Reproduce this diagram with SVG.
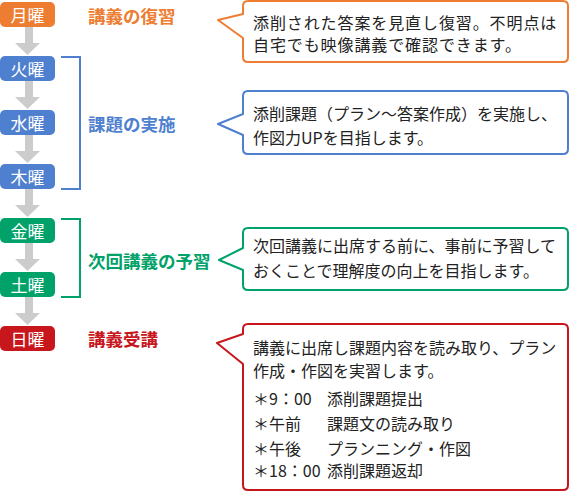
<svg xmlns="http://www.w3.org/2000/svg" width="570" height="492" viewBox="0 0 570 492">
<style>
text{font-family:"Noto Sans CJK JP","Noto Sans",sans-serif}
.day{fill:#fff;font-size:17px;text-anchor:middle;dominant-baseline:central}
.lbl{font-size:17.5px;font-weight:bold;dominant-baseline:central}
.t{font-size:16px;fill:#222;dominant-baseline:central}
.arr{fill:#cccccc}
.cb{fill:#fff;stroke-width:2;stroke-linejoin:round}
.br{fill:none;stroke-width:2}
</style>
<defs>
<path id="arrow" d="M25,0 H33 V16 H40 L27.5,28 L15,16 H25 Z"/>
</defs>
<g id="connectors" class="arr">
<use href="#arrow" x="0" y="27"/>
<use href="#arrow" x="0" y="81"/>
<use href="#arrow" x="0" y="135"/>
<use href="#arrow" x="0" y="189"/>
<use href="#arrow" x="0" y="243"/>
<use href="#arrow" x="0" y="297"/>
</g>
<g id="mon"><rect x="0" y="2" width="55" height="25" rx="5" fill="#ED7D31"/><text class="day" x="27.5" y="14.5">月曜</text></g>
<g id="tue"><rect x="0" y="56" width="55" height="25" rx="5" fill="#4F7FCF"/><text class="day" x="27.5" y="68.5">火曜</text></g>
<g id="wed"><rect x="0" y="110" width="55" height="25" rx="5" fill="#4F7FCF"/><text class="day" x="27.5" y="122.5">水曜</text></g>
<g id="thu"><rect x="0" y="164" width="55" height="25" rx="5" fill="#4F7FCF"/><text class="day" x="27.5" y="176.5">木曜</text></g>
<g id="fri"><rect x="0" y="218" width="55" height="25" rx="5" fill="#00A26A"/><text class="day" x="27.5" y="230.5">金曜</text></g>
<g id="sat"><rect x="0" y="272" width="55" height="25" rx="5" fill="#00A26A"/><text class="day" x="27.5" y="284.5">土曜</text></g>
<g id="sun"><rect x="0" y="326" width="55" height="25" rx="5" fill="#C8161D"/><text class="day" x="27.5" y="338.5">日曜</text></g>
<g id="brackets">
<path class="br" stroke="#4F7FCF" d="M61,57 H80 V189 H61"/>
<path class="br" stroke="#00A26A" d="M61,219 H80 V297 H61"/>
</g>
<g id="labels">
<text class="lbl" x="88" y="15" fill="#ED7D31">講義の復習</text>
<text class="lbl" x="88" y="123" fill="#4F7FCF">課題の実施</text>
<text class="lbl" x="88" y="260" fill="#00A26A">次回講義の予習</text>
<text class="lbl" x="88" y="338" fill="#C8161D">講義受講</text>
</g>
<g id="callout1">
<path class="cb" stroke="#ED7D31" d="M248,1 H563 Q568,1 568,6 V57 Q568,62 563,62 H248 Q243,62 243,57 V38 L218,20 L243,14 V6 Q243,1 248,1 Z"/>
<text class="t" x="253" y="22" letter-spacing="0.9">添削された答案を見直し復習。不明点は</text>
<text class="t" x="253" y="44" letter-spacing="0.9">自宅でも映像講義で確認できます。</text>
</g>
<g id="callout2">
<path class="cb" stroke="#4F7FCF" d="M248,91 H563 Q568,91 568,96 V149 Q568,154 563,154 H248 Q243,154 243,149 V135 L218,124 L243,114 V96 Q243,91 248,91 Z"/>
<text class="t" x="253" y="113">添削課題（プラン～答案作成）を実施し、</text>
<text class="t" x="253" y="137">作図力UPを目指します。</text>
</g>
<g id="callout3">
<path class="cb" stroke="#00A26A" d="M248,228 H563 Q568,228 568,233 V285 Q568,290 563,290 H248 Q243,290 243,285 V270 L219,260 L243,248 V233 Q243,228 248,228 Z"/>
<text class="t" x="253" y="245">次回講義に出席する前に、事前に予習して</text>
<text class="t" x="253" y="270">おくことで理解度の向上を目指します。</text>
</g>
<g id="callout4">
<path class="cb" stroke="#C8161D" d="M248,324 H563 Q568,324 568,329 V485 Q568,490 563,490 H248 Q243,490 243,485 V364 L217,343 L243,334 V329 Q243,324 248,324 Z"/>
<text class="t" x="253" y="347">講義に出席し課題内容を読み取り、プラン</text>
<text class="t" x="253" y="370">作成・作図を実習します。</text>
<text class="t" x="253" y="398">＊9：00</text><text class="t" x="327" y="398">添削課題提出</text>
<text class="t" x="253" y="423">＊午前</text><text class="t" x="327" y="423">課題文の読み取り</text>
<text class="t" x="253" y="448">＊午後</text><text class="t" x="327" y="448">プランニング・作図</text>
<text class="t" x="253" y="470">＊18：00</text><text class="t" x="327" y="470">添削課題返却</text>
</g>
</svg>
